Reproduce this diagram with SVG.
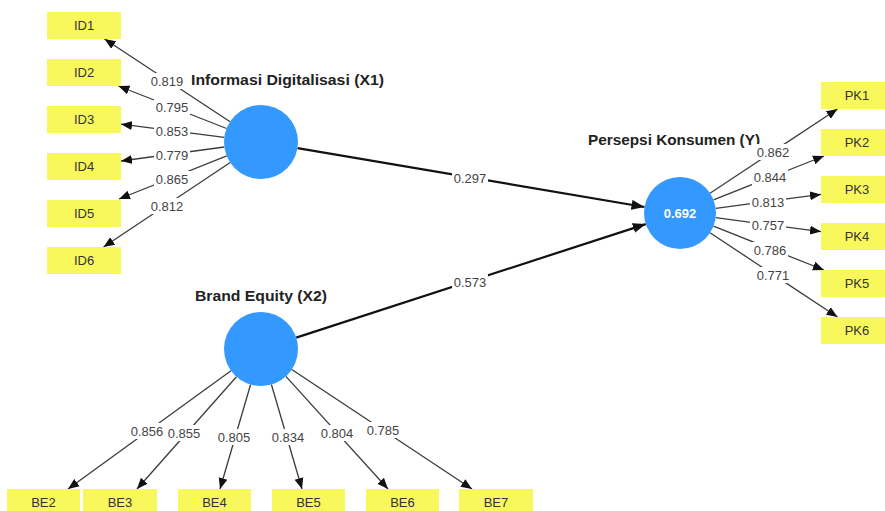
<svg xmlns="http://www.w3.org/2000/svg" width="885" height="511" viewBox="0 0 885 511">
<style>
  .ind { fill: #f8f85c; }
  .it { font-family: "Liberation Sans", Arial, sans-serif; font-size: 13px; fill: #333; text-anchor: middle; }
  .lv { fill: #3399ff; }
  .title { font-family: "Liberation Sans", Arial, sans-serif; font-size: 14px; font-weight: bold; fill: #222; }
  .ol { stroke: #3c3c3c; stroke-width: 1.3; fill: none; marker-end: url(#ah); }
  .sl { stroke: #111; stroke-width: 2.2; fill: none; marker-end: url(#ah2); }
  .lb { fill: #fff; }
  .lt { font-family: "Liberation Sans", Arial, sans-serif; font-size: 13px; fill: #444; text-anchor: middle; }
  .r2 { font-family: "Liberation Sans", Arial, sans-serif; font-size: 13px; font-weight: bold; fill: #fff; text-anchor: middle; }
</style>
<defs>
  <marker id="ah" markerUnits="userSpaceOnUse" markerWidth="12" markerHeight="10" refX="11" refY="5" orient="auto">
    <path d="M0,0.5 L11,5 L0,9.5 z" fill="#111"/>
  </marker>
  <marker id="ah2" markerUnits="userSpaceOnUse" markerWidth="14" markerHeight="11" refX="13" refY="5.5" orient="auto">
    <path d="M0,0.5 L13,5.5 L0,10.5 z" fill="#111"/>
  </marker>
</defs>
<rect width="885" height="511" fill="#fff"/>

<g id="connectors">
  <line class="ol" x1="230.1" y1="121.7" x2="104.5" y2="39"/>
  <line class="ol" x1="226.6" y1="128.5" x2="118.4" y2="86"/>
  <line class="ol" x1="224.3" y1="137.3" x2="121" y2="124.2"/>
  <line class="ol" x1="224.3" y1="147" x2="121" y2="161"/>
  <line class="ol" x1="226.7" y1="155.8" x2="119" y2="199"/>
  <line class="ol" x1="230.2" y1="162.5" x2="103.5" y2="247"/>

  <line class="sl" x1="297.5" y1="148.2" x2="644.5" y2="207"/>
  <line class="sl" x1="296.2" y1="337.6" x2="645.8" y2="224.1"/>

  <line class="ol" x1="710" y1="193.2" x2="837.5" y2="109"/>
  <line class="ol" x1="713.5" y1="199.8" x2="824" y2="156"/>
  <line class="ol" x1="715.7" y1="208.3" x2="821" y2="194.4"/>
  <line class="ol" x1="715.7" y1="217.7" x2="821" y2="231.6"/>
  <line class="ol" x1="713.5" y1="226.2" x2="823.9" y2="270"/>
  <line class="ol" x1="710" y1="232.8" x2="837.5" y2="317"/>

  <line class="ol" x1="231" y1="370.7" x2="68" y2="489"/>
  <line class="ol" x1="236.5" y1="376.7" x2="137" y2="489"/>
  <line class="ol" x1="250.6" y1="384.5" x2="220" y2="489"/>
  <line class="ol" x1="271.4" y1="384.5" x2="302" y2="489"/>
  <line class="ol" x1="285.9" y1="376.4" x2="388" y2="489"/>
  <line class="ol" x1="291.8" y1="369.5" x2="472" y2="489"/>
</g>

<g id="ID1"><rect class="ind" x="47" y="12" width="74" height="27"/><text class="it" x="84" y="30">ID1</text></g>
<g id="ID2"><rect class="ind" x="47" y="59" width="74" height="27"/><text class="it" x="84" y="77">ID2</text></g>
<g id="ID3"><rect class="ind" x="47" y="106" width="74" height="27"/><text class="it" x="84" y="124">ID3</text></g>
<g id="ID4"><rect class="ind" x="47" y="153" width="74" height="27"/><text class="it" x="84" y="171">ID4</text></g>
<g id="ID5"><rect class="ind" x="47" y="200" width="74" height="27"/><text class="it" x="84" y="218">ID5</text></g>
<g id="ID6"><rect class="ind" x="47" y="247" width="74" height="27"/><text class="it" x="84" y="265">ID6</text></g>

<g id="PK1"><rect class="ind" x="821" y="82" width="74" height="27"/><text class="it" x="857" y="100">PK1</text></g>
<g id="PK2"><rect class="ind" x="821" y="129" width="74" height="27"/><text class="it" x="857" y="147">PK2</text></g>
<g id="PK3"><rect class="ind" x="821" y="176" width="74" height="27"/><text class="it" x="857" y="194">PK3</text></g>
<g id="PK4"><rect class="ind" x="821" y="223" width="74" height="27"/><text class="it" x="857" y="241">PK4</text></g>
<g id="PK5"><rect class="ind" x="821" y="270" width="74" height="27"/><text class="it" x="857" y="288">PK5</text></g>
<g id="PK6"><rect class="ind" x="821" y="317" width="74" height="27"/><text class="it" x="857" y="335">PK6</text></g>

<g id="BE2"><rect class="ind" x="7" y="489" width="73" height="27"/><text class="it" x="43.5" y="507">BE2</text></g>
<g id="BE3"><rect class="ind" x="83" y="489" width="74" height="27"/><text class="it" x="120" y="507">BE3</text></g>
<g id="BE4"><rect class="ind" x="178" y="489" width="73" height="27"/><text class="it" x="214.5" y="507">BE4</text></g>
<g id="BE5"><rect class="ind" x="272" y="489" width="73" height="27"/><text class="it" x="308.5" y="507">BE5</text></g>
<g id="BE6"><rect class="ind" x="366" y="489" width="73" height="27"/><text class="it" x="402.5" y="507">BE6</text></g>
<g id="BE7"><rect class="ind" x="459" y="489" width="74" height="27"/><text class="it" x="496" y="507">BE7</text></g>

<g id="X1">
  <circle class="lv" cx="261" cy="142" r="37"/>
  <text class="title" x="191" y="85" textLength="193" lengthAdjust="spacingAndGlyphs">Informasi Digitalisasi (X1)</text>
</g>
<g id="X2">
  <circle class="lv" cx="261" cy="349" r="37"/>
  <text class="title" x="195" y="301" textLength="132" lengthAdjust="spacingAndGlyphs">Brand Equity (X2)</text>
</g>
<g id="Y">
  <circle class="lv" cx="680" cy="213" r="36"/>
  <text class="title" x="588" y="145" textLength="172" lengthAdjust="spacingAndGlyphs">Persepsi Konsumen (Y)</text>
  <text class="r2" x="680" y="217.5">0.692</text>
</g>

<g id="labels">
  <rect class="lb" x="149" y="73" width="36" height="16"/><text class="lt" x="167" y="85.5">0.819</text>
  <rect class="lb" x="154" y="99" width="36" height="16"/><text class="lt" x="172" y="111.5">0.795</text>
  <rect class="lb" x="154" y="123" width="36" height="16"/><text class="lt" x="172" y="135.5">0.853</text>
  <rect class="lb" x="154" y="147" width="36" height="16"/><text class="lt" x="172" y="159.5">0.779</text>
  <rect class="lb" x="154" y="171" width="36" height="16"/><text class="lt" x="172" y="183.5">0.865</text>
  <rect class="lb" x="149" y="198" width="36" height="16"/><text class="lt" x="167" y="210.5">0.812</text>

  <rect class="lb" x="452" y="170" width="36" height="16"/><text class="lt" x="470" y="182.5">0.297</text>
  <rect class="lb" x="452" y="274" width="36" height="16"/><text class="lt" x="470" y="286.5">0.573</text>

  <rect class="lb" x="755" y="144" width="36" height="16"/><text class="lt" x="773" y="156.5">0.862</text>
  <rect class="lb" x="752" y="169" width="36" height="16"/><text class="lt" x="770" y="181.5">0.844</text>
  <rect class="lb" x="750" y="194" width="36" height="16"/><text class="lt" x="768" y="206.5">0.813</text>
  <rect class="lb" x="750" y="217" width="36" height="16"/><text class="lt" x="768" y="229.5">0.757</text>
  <rect class="lb" x="752" y="242" width="36" height="16"/><text class="lt" x="770" y="254.5">0.786</text>
  <rect class="lb" x="755" y="267" width="36" height="16"/><text class="lt" x="773" y="279.5">0.771</text>

  <rect class="lb" x="129" y="423" width="36" height="16"/><text class="lt" x="147" y="435.5">0.856</text>
  <rect class="lb" x="166" y="425" width="36" height="16"/><text class="lt" x="184" y="437.5">0.855</text>
  <rect class="lb" x="216" y="429" width="36" height="16"/><text class="lt" x="234" y="441.5">0.805</text>
  <rect class="lb" x="270" y="429" width="36" height="16"/><text class="lt" x="288" y="441.5">0.834</text>
  <rect class="lb" x="319" y="425" width="36" height="16"/><text class="lt" x="337" y="437.5">0.804</text>
  <rect class="lb" x="365" y="422" width="36" height="16"/><text class="lt" x="383" y="434.5">0.785</text>
</g>
</svg>
